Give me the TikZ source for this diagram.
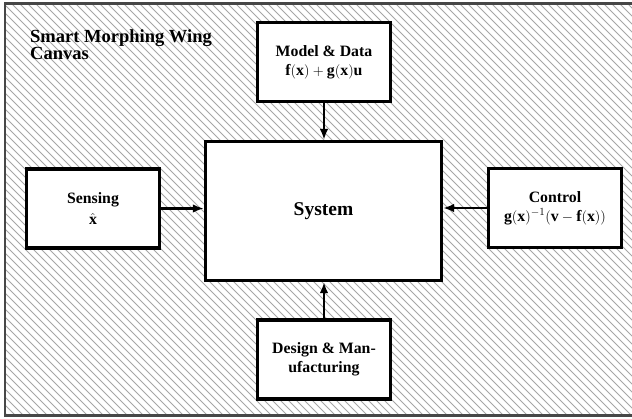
\documentclass[tikz,border=0pt]{standalone}
\usepackage{fontspec}
\setmainfont{Liberation Serif}
\usetikzlibrary{arrows.meta}
\begin{document}
\begin{tikzpicture}[x=1pt,y=-1pt,
  boxstyle/.style={draw=black, line width=3.2pt, fill=white, align=center,
    inner sep=0pt, font=\fontsize{15.8}{19}\selectfont\bfseries},
  smallbox/.style={boxstyle, minimum width=133pt, minimum height=79pt},
  arrowstyle/.style={line width=2.5pt, -{Latex[length=11pt,width=8.5pt]}},
  hatchline/.style={draw=black!35, line width=0.8pt}
]
\useasboundingbox (0,0) rectangle (632,419);
\begin{scope}
  \clip (5,3.5) rectangle (640,415.5);
  \fill[white] (5,3.5) rectangle (640,415.5);
  \foreach \i in {-440,-432,...,660} {
    \draw[hatchline] (\i,0) -- (\i+430,430);
  }
\end{scope}
\draw[line width=2.5pt, draw=black!72] (5,3.5) rectangle (640,415.5);

\node[anchor=north west, align=left, inner sep=0pt,
  font=\fontsize{18.5}{16}\selectfont\bfseries] (title) at (30,29)
  {Smart Morphing Wing\\Canvas};

\node[boxstyle, minimum width=236pt, minimum height=139pt,
  font=\fontsize{19.5}{22}\selectfont\bfseries] (system) at (323.5,211) {System};
\node[smallbox] (model) at (324,62) {Model \& Data\\$\mathbf{f}(\mathbf{x})+\mathbf{g}(\mathbf{x})\mathbf{u}$};
\node[smallbox] (sensing) at (93,208.5) {Sensing\\[1.5pt]$\hat{\mathbf{x}}$};
\node[smallbox] (control) at (555,208) {Control\\$\mathbf{g}(\mathbf{x})^{-1}(\mathbf{v}-\mathbf{f}(\mathbf{x}))$};
\node[smallbox] (design) at (324,359.5) {Design \& Man-\\ufacturing};

\draw[arrowstyle] (model.south) -- (model.south |- system.north);
\draw[arrowstyle] (sensing.east) -- (sensing.east -| system.west);
\draw[arrowstyle] (control.west) -- (control.west -| system.east);
\draw[arrowstyle] (design.north) -- (design.north |- system.south);
\end{tikzpicture}
\end{document}
